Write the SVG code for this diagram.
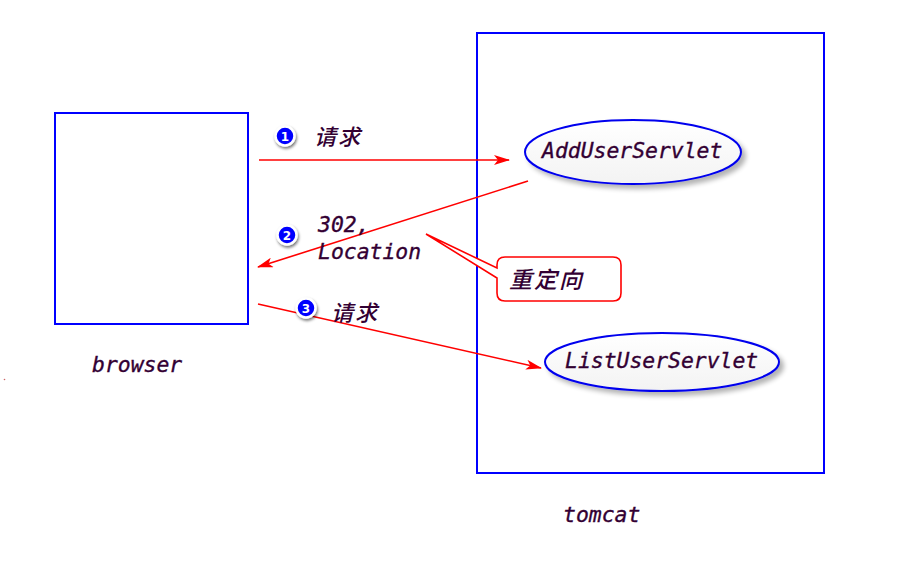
<svg xmlns="http://www.w3.org/2000/svg" width="906" height="566" viewBox="0 0 906 566">
<defs>
<style>
.box{fill:none;stroke:#0000ff;stroke-width:2}
.mono{font-family:"DejaVu Sans Mono","Liberation Mono",monospace;font-style:italic;font-size:21.4px;fill:#330033;stroke:#330033;stroke-width:0.35}
.cjk{font-family:"Noto Sans CJK SC","Noto Sans CJK JP",sans-serif;font-style:italic;font-weight:500;font-size:22px;letter-spacing:2px;fill:#330033}
.ell{fill:url(#eg);stroke:#0000ee;stroke-width:2;filter:url(#sh)}
.arrow{fill:none;stroke:#ff0000;stroke-width:1.6;marker-end:url(#ah)}
.badge circle{fill:#0000ff;stroke:#ffffff;stroke-width:2.5;filter:url(#sh2)}
.badge text{font-family:"DejaVu Sans","Liberation Sans",sans-serif;font-weight:bold;font-size:12px;fill:#ffffff;text-anchor:middle}
</style>
<linearGradient id="eg" x1="0" y1="0" x2="0" y2="1">
<stop offset="0" stop-color="#ffffff"/>
<stop offset="1" stop-color="#f3f3f3"/>
</linearGradient>
<filter id="sh" x="-10%" y="-20%" width="125%" height="150%">
<feGaussianBlur in="SourceAlpha" stdDeviation="2.5"/>
<feOffset dx="4" dy="4" result="b"/>
<feComponentTransfer><feFuncA type="linear" slope="0.3"/></feComponentTransfer>
<feMerge><feMergeNode/><feMergeNode in="SourceGraphic"/></feMerge>
</filter>
<filter id="sh2" x="-60%" y="-60%" width="220%" height="220%">
<feGaussianBlur in="SourceAlpha" stdDeviation="1.8"/>
<feOffset dx="1" dy="1.5" result="b"/>
<feComponentTransfer><feFuncA type="linear" slope="0.55"/></feComponentTransfer>
<feMerge><feMergeNode/><feMergeNode in="SourceGraphic"/></feMerge>
</filter>
<marker id="ah" viewBox="0 0 16 10" refX="15" refY="5" markerWidth="16" markerHeight="10" markerUnits="userSpaceOnUse" orient="auto">
<path d="M0,0 L16,5 L0,10 L4,5 Z" fill="#ff0000"/>
</marker>
</defs>
<rect width="906" height="566" fill="#ffffff"/>

<g id="browser">
<rect class="box" x="55" y="113" width="193" height="211"/>
<text class="mono" x="92" y="372">browser</text>
</g>

<g id="tomcat">
<rect class="box" x="477" y="33" width="347" height="440"/>
<text class="mono" x="563" y="522">tomcat</text>
</g>

<g id="AddUserServlet">
<ellipse class="ell" cx="633" cy="152" rx="108" ry="32"/>
<text class="mono" x="542" y="158">AddUserServlet</text>
</g>

<g id="ListUserServlet">
<ellipse class="ell" cx="662" cy="362" rx="117" ry="29"/>
<text class="mono" x="565" y="368">ListUserServlet</text>
</g>

<g id="redirect-callout">
<path d="M505,257 H613 Q621,257 621,265 V293 Q621,301 613,301 H505 Q497,301 497,293 V278 L426,234 L497,268 V265 Q497,257 505,257 Z" fill="#ffffff" stroke="#ff0000" stroke-width="1.6"/>
<text class="cjk" x="509" y="288" style="font-size:23px">重定向</text>
</g>

<g id="connectors">
<line class="arrow" x1="259" y1="160" x2="509" y2="160"/>
<line class="arrow" x1="528" y1="181" x2="258" y2="267"/>
<line class="arrow" x1="258" y1="304" x2="541" y2="368"/>
</g>

<g id="labels">
<g class="badge"><circle cx="285" cy="136" r="9.5"/><text x="285" y="140.5">1</text></g>
<text class="cjk" x="314" y="145">请求</text>
<g class="badge"><circle cx="287" cy="235" r="9.5"/><text x="287" y="239.5">2</text></g>
<text class="mono" x="318" y="232">302,</text>
<text class="mono" x="318" y="259">Location</text>
<g class="badge"><circle cx="306" cy="308" r="9.5"/><text x="306" y="312.5">3</text></g>
<text class="cjk" x="331" y="321">请求</text>
</g>
<circle cx="4.5" cy="379.5" r="0.8" fill="#cc6666"/>
</svg>
